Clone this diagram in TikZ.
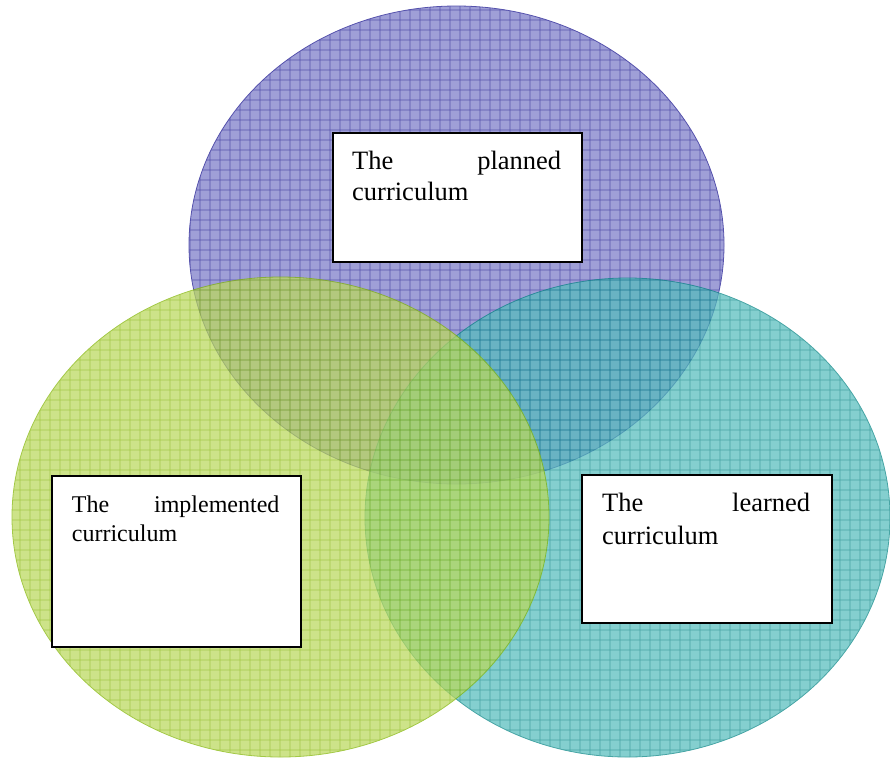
\documentclass[tikz,border=0pt]{standalone}
\usepackage{fontspec}
\setmainfont{Liberation Serif}
\usetikzlibrary{shadows}
\definecolor{pfill}{RGB}{122,122,200}
\definecolor{pline}{RGB}{20,15,140}
\definecolor{gfill}{RGB}{186,216,92}
\definecolor{gline}{RGB}{128,180,0}
\definecolor{tfill}{RGB}{84,188,188}
\definecolor{tline}{RGB}{0,130,130}
\tikzset{
  gridline/.style={line width=0.9pt},
  textbox/.style={draw=black, line width=1.6pt, fill=white, rectangle, inner sep=0pt, anchor=north west,
    drop shadow={shadow xshift=1.6pt, shadow yshift=-1.6pt, fill=black!45, opacity=1}},
  boxtext/.style={anchor=base west, inner sep=0pt, text=black},
}
\newcommand{\gridellipse}[6]{% cx, cy, rx, ry, fill, line
  \begin{scope}[transparency group, opacity=0.72]
    \fill[#5] (#1,#2) ellipse [x radius=#3, y radius=#4];
    \begin{scope}
      \clip (#1,#2) ellipse [x radius=#3, y radius=#4];
      \foreach \gx in {0,10,...,890} \draw[gridline,#6] (\gx,0) -- (\gx,758);
      \foreach \gy in {0,10,...,760} \draw[gridline,#6] (0,\gy) -- (890,\gy);
    \end{scope}
    \draw[#6, line width=0.8pt] (#1,#2) ellipse [x radius=#3, y radius=#4];
  \end{scope}}
\begin{document}
\begin{tikzpicture}[x=1pt,y=-1pt]
\useasboundingbox (0,0) rectangle (890,758);
% ellipses
\gridellipse{456.5}{245}{267.5}{239}{pfill}{pline}
\gridellipse{627.5}{517.5}{262.5}{239.5}{tfill}{tline}
\gridellipse{280.5}{517}{268.5}{240}{gfill}{gline}
% boxes
\node[textbox, minimum width=249pt, minimum height=129pt] (planned) at (332,132) {};
\node[textbox, minimum width=249pt, minimum height=171pt] (implemented) at (51,475) {};
\node[textbox, minimum width=250pt, minimum height=148pt] (learned) at (581,474) {};
% texts
\node[boxtext] (plannedtext) at (352,169)
  {\fontsize{26.5}{31}\selectfont\parbox[t]{209pt}{The\hfill planned\\curriculum}};
\node[boxtext] (implementedtext) at (71.7,512)
  {\fontsize{24}{29}\selectfont\parbox[t]{207.5pt}{The\hfill implemented\\curriculum}};
\node[boxtext] (learnedtext) at (602,511)
  {\fontsize{26.5}{33}\selectfont\parbox[t]{208pt}{The\hfill learned\\curriculum}};
\end{tikzpicture}
\end{document}
